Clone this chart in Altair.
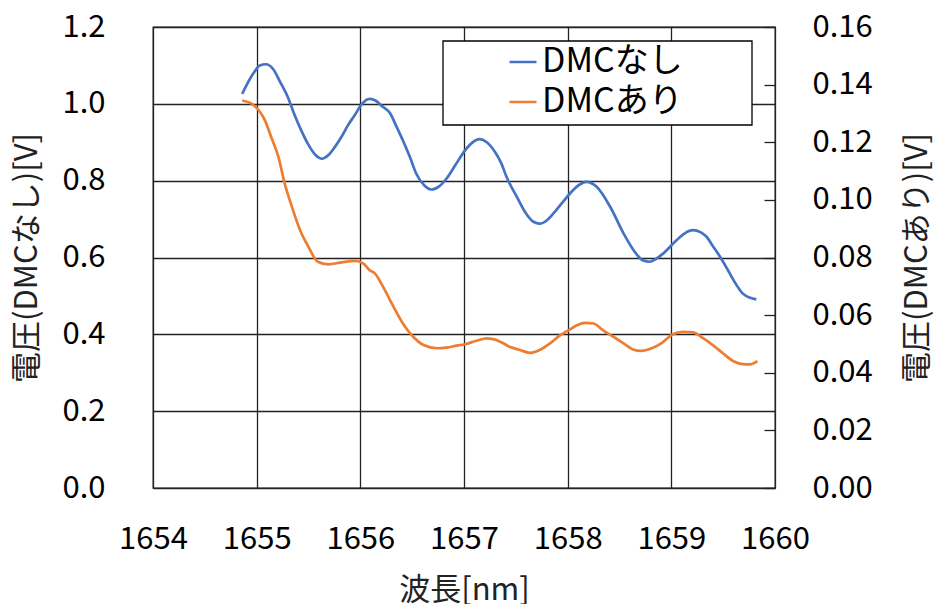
import altair as alt
import pandas as pd

# --- data ---
blue_x = [1654.86, 1654.97, 1655.03, 1655.09, 1655.16, 1655.23, 1655.30, 1655.36, 1655.43, 1655.50,
          1655.57, 1655.63, 1655.69, 1655.755, 1655.82, 1655.88, 1655.95, 1656.01, 1656.09, 1656.15,
          1656.20, 1656.29, 1656.35, 1656.41, 1656.48, 1656.54, 1656.62, 1656.69, 1656.76, 1656.83,
          1656.92, 1657.01, 1657.08, 1657.15, 1657.22, 1657.31, 1657.36, 1657.41, 1657.51, 1657.60,
          1657.67, 1657.73, 1657.80, 1657.86, 1657.94, 1658.02, 1658.10, 1658.18, 1658.28, 1658.41,
          1658.54, 1658.66, 1658.73, 1658.79, 1658.85, 1658.92, 1659.05, 1659.13, 1659.21, 1659.28,
          1659.34, 1659.40, 1659.47, 1659.54, 1659.60, 1659.69, 1659.76, 1659.82]
blue_v = [1.026, 1.080, 1.100, 1.103, 1.090, 1.055, 1.018, 0.975, 0.931, 0.893,
          0.866, 0.857, 0.866, 0.888, 0.915, 0.944, 0.972, 0.998, 1.013, 1.008,
          0.996, 0.974, 0.940, 0.905, 0.860, 0.818, 0.787, 0.777, 0.785, 0.805,
          0.842, 0.879, 0.899, 0.908, 0.900, 0.870, 0.845, 0.810, 0.758, 0.714,
          0.693, 0.688, 0.697, 0.714, 0.740, 0.766, 0.787, 0.797, 0.784, 0.732,
          0.662, 0.610, 0.592, 0.589, 0.596, 0.610, 0.645, 0.663, 0.671, 0.666,
          0.654, 0.630, 0.602, 0.570, 0.541, 0.506, 0.495, 0.491]

orange_x = [1654.86, 1654.95, 1655.02, 1655.08, 1655.14, 1655.21, 1655.27, 1655.34, 1655.42, 1655.50,
            1655.59, 1655.69, 1655.82, 1655.95, 1656.03, 1656.09, 1656.14, 1656.22, 1656.32, 1656.41,
            1656.51, 1656.61, 1656.74, 1656.83, 1656.93, 1657.01, 1657.12, 1657.22, 1657.35, 1657.44,
            1657.54, 1657.64, 1657.73, 1657.83, 1657.92, 1658.01, 1658.09, 1658.17, 1658.25, 1658.34,
            1658.44, 1658.54, 1658.63, 1658.71, 1658.81, 1658.91, 1659.01, 1659.11, 1659.21, 1659.31,
            1659.40, 1659.50, 1659.60, 1659.69, 1659.76, 1659.83]
orange_v = [0.1345, 0.1334, 0.1311, 0.1276, 0.1218, 0.1149, 0.1057, 0.0976, 0.0894, 0.0837,
            0.0785, 0.0776, 0.0783, 0.0788, 0.0779, 0.0756, 0.0745, 0.0698, 0.0629, 0.0571,
            0.0525, 0.0496, 0.0485, 0.0487, 0.0494, 0.0499, 0.0511, 0.0519, 0.0508, 0.0490,
            0.0479, 0.0469, 0.0479, 0.0502, 0.0528, 0.0548, 0.0565, 0.0573, 0.0571, 0.0548,
            0.0525, 0.0502, 0.0481, 0.0476, 0.0485, 0.0504, 0.0533, 0.0542, 0.0540, 0.0519,
            0.0496, 0.0467, 0.0440, 0.0430, 0.0429, 0.0440]

series_names = ["DMCなし", "DMCあり"]
series_colors = ["#4472C4", "#ED7D31"]
x_ticks = [1654, 1655, 1656, 1657, 1658, 1659, 1660]
left_ticks = [0.0, 0.2, 0.4, 0.6, 0.8, 1.0, 1.2]
right_ticks = [0.0, 0.02, 0.04, 0.06, 0.08, 0.10, 0.12, 0.14, 0.16]

df_blue = pd.DataFrame({"x": blue_x, "v": blue_v, "series": series_names[0]})
df_orange = pd.DataFrame({"x": orange_x, "v": orange_v, "series": series_names[1]})

FONT = "Noto Sans CJK JP"
FS = 31
TFS = 31
LINE = "#222222"

color = alt.Color(
    "series:N",
    scale=alt.Scale(domain=series_names, range=series_colors),
    legend=alt.Legend(
        title=None, orient="none", legendX=290, legendY=10,
        direction="vertical", symbolType="stroke", symbolSize=729,
        symbolStrokeWidth=2.5, labelFontSize=34, labelFont=FONT,
        labelColor="black", padding=8, symbolOffset=55, labelOffset=2,
        rowPadding=6, labelLimit=400,
    ),
)

xaxis = alt.Axis(values=x_ticks, format="d", title="波長[nm]", grid=True,
                 gridColor=LINE, gridWidth=1.3, ticks=False, domain=False,
                 labelFlush=False, labelPadding=36, titlePadding=21)
xscale = alt.Scale(domain=[1654, 1660], nice=False, zero=False)

# white legend frame (drawn under the legend, over the grid)
frame = alt.Chart(pd.DataFrame({"k": [0]})).mark_rect(
    fill="white", stroke="black", strokeWidth=1.3
).encode(
    x=alt.value(290), x2=alt.value(599), y=alt.value(14), y2=alt.value(98)
)

left = alt.Chart(df_blue).mark_line(strokeWidth=2.7, interpolate="monotone").encode(
    x=alt.X("x:Q", scale=xscale, axis=xaxis),
    y=alt.Y("v:Q", scale=alt.Scale(domain=[0, 1.2], nice=False),
            axis=alt.Axis(values=left_ticks, format=".1f", title="電圧(DMCなし)[V]",
                          grid=True, gridColor=LINE, gridWidth=1.3, ticks=False,
                          domain=False, labelPadding=48, titlePadding=18)),
    color=color,
)

right = alt.Chart(df_orange).mark_line(strokeWidth=2.7, interpolate="monotone").encode(
    x=alt.X("x:Q", scale=xscale, axis=xaxis),
    y=alt.Y("v:Q", scale=alt.Scale(domain=[0, 0.16], nice=False),
            axis=alt.Axis(values=right_ticks, format=".2f", title="電圧(DMCあり)[V]",
                          orient="right", grid=False, offset=-11, tickSize=11,
                          tickColor=LINE, tickWidth=1.3, domain=False,
                          labelPadding=37, titlePadding=61, titleAngle=270)),
    color=color,
)

chart = alt.layer(frame, left, right).resolve_scale(y="independent").properties(
    width=622, height=461,
    background="white",
    autosize=alt.AutoSizeParams(type="none"),
    padding={"left": 145, "top": 19, "right": 161, "bottom": 116},
).configure_view(stroke=LINE, strokeWidth=1.3).configure_axis(
    labelFont=FONT, labelFontSize=FS, labelColor="black",
    titleFont=FONT, titleFontSize=TFS, titleColor="#222222", titleFontWeight="normal",
)

chart.save("out.html", embed_options={"renderer": "svg", "actions": False})
